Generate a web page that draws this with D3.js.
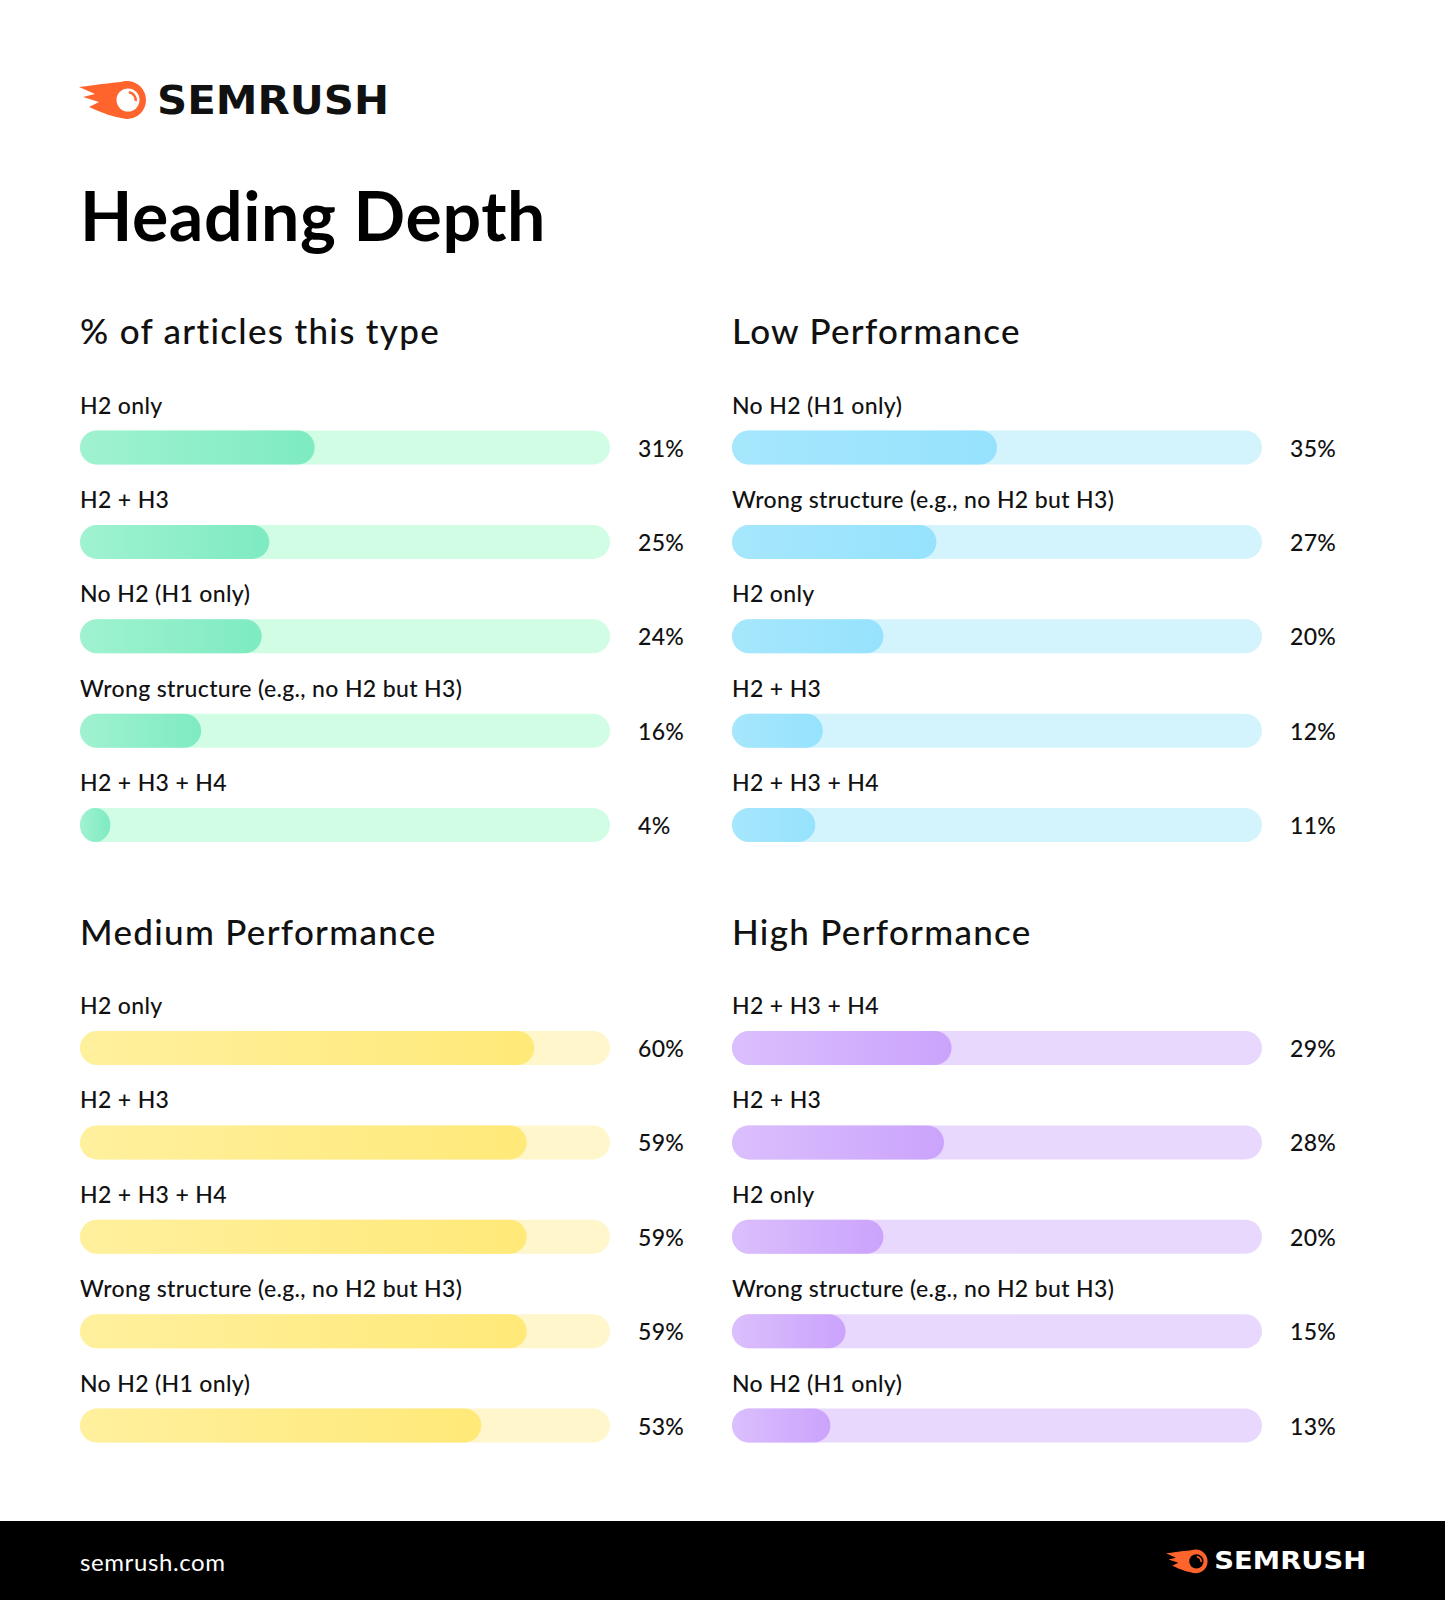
<!DOCTYPE html>
<html>
<head>
<meta charset="utf-8">
<script src="https://cdn.jsdelivr.net/npm/d3@7"></script>
<style>
  html, body { margin: 0; padding: 0; background: #fff; }
  svg { display: block; }
</style>
</head>
<body>
<svg id="chart" width="1445" height="1600"></svg>
<script>
// ---- Data ----
const chartTitle = "Heading Depth";
const panelTitles = ["% of articles this type", "Low Performance", "Medium Performance", "High Performance"];

const allCategories = ["H2 only", "H2 + H3", "No H2 (H1 only)", "Wrong structure (e.g., no H2 but H3)", "H2 + H3 + H4"];
const allValues = [31, 25, 24, 16, 4];

const lowCategories = ["No H2 (H1 only)", "Wrong structure (e.g., no H2 but H3)", "H2 only", "H2 + H3", "H2 + H3 + H4"];
const lowValues = [35, 27, 20, 12, 11];

const mediumCategories = ["H2 only", "H2 + H3", "H2 + H3 + H4", "Wrong structure (e.g., no H2 but H3)", "No H2 (H1 only)"];
const mediumValues = [60, 59, 59, 59, 53];

const highCategories = ["H2 + H3 + H4", "H2 + H3", "H2 only", "Wrong structure (e.g., no H2 but H3)", "No H2 (H1 only)"];
const highValues = [29, 28, 20, 15, 13];

const footerText = "semrush.com";
const brandText = "SEMRUSH";

// ---- Styling ----
const FONT = "Lato, 'Noto Sans', sans-serif";
const palettes = [
  { track: "#d1fde4", from: "#a0f2d0", to: "#7eebc2" },
  { track: "#d3f3fd", from: "#a6e7fc", to: "#96e2fd" },
  { track: "#fff6cb", from: "#fff09e", to: "#ffe978" },
  { track: "#e8d8fd", from: "#dbbffd", to: "#cba3fc" }
];

const svg = d3.select("#chart");
const defs = svg.append("defs");
palettes.forEach((p, i) => {
  const g = defs.append("linearGradient").attr("id", "grad" + i)
    .attr("x1", "0%").attr("x2", "100%").attr("y1", "0%").attr("y2", "0%");
  g.append("stop").attr("offset", "0%").attr("stop-color", p.from);
  g.append("stop").attr("offset", "100%").attr("stop-color", p.to);
});

// ---- Logo ----
function drawLogo(g, x, y, s, textColor, textW) {
  const L = g.append("g").attr("transform", `translate(${x},${y}) scale(${s})`);
  const orange = "#ff642d";
  L.append("path")
    .attr("d", "M48,2 C36,2 24,4 0,7 L16,14 L4,17 L20,22 L10,27 C24,33 34,38 48,38 Z")
    .attr("fill", orange);
  L.append("circle").attr("cx", 48).attr("cy", 20).attr("r", 19).attr("fill", orange);
  L.append("circle").attr("cx", 49).attr("cy", 20).attr("r", 11.5).attr("fill", textColor === "#fff" ? "#000" : "#fff");
  L.append("path")
    .attr("d", d3.arc()({ innerRadius: 6.5, outerRadius: 9, startAngle: 0.1, endAngle: 1.7 }))
    .attr("transform", "translate(49,20)")
    .attr("fill", orange);
  L.append("text")
    .attr("x", 78).attr("y", 20)
    .attr("dominant-baseline", "central")
    .attr("font-family", "'DejaVu Sans', Inter, sans-serif")
    .attr("font-weight", 700)
    .attr("font-size", 39)
    .attr("textLength", textW)
    .attr("lengthAdjust", "spacingAndGlyphs")
    .attr("fill", textColor)
    .text(brandText);
}
drawLogo(svg, 79, 80, 1, "#111", 232);

// ---- Title ----
svg.append("text")
  .attr("x", 80).attr("y", 241)
  .attr("font-family", FONT).attr("font-weight", 700).attr("font-size", 68)
  .attr("letter-spacing", 0.6)
  .attr("fill", "#000")
  .text(chartTitle);

// ---- Panels ----
const panels = [
  { cats: allCategories, vals: allValues, x: 80, y: 0 },
  { cats: lowCategories, vals: lowValues, x: 732, y: 0 },
  { cats: mediumCategories, vals: mediumValues, x: 80, y: 600.5 },
  { cats: highCategories, vals: highValues, x: 732, y: 600.5 }
];
const trackW = 530, barH = 34, rowStep = 94.4, firstRow = 447.5;
const xScale = d3.scaleLinear().domain([0, 70]).range([0, trackW]);

panels.forEach((p, i) => {
  const g = svg.append("g").attr("transform", `translate(${p.x},${p.y})`);
  g.append("text")
    .attr("x", 0).attr("y", 344)
    .attr("font-family", FONT).attr("font-weight", 500).attr("font-size", 35)
    .attr("letter-spacing", 1.3)
    .attr("fill", "#111")
    .text(panelTitles[i]);

  const yScale = d3.scalePoint().domain(p.cats).range([firstRow, firstRow + rowStep * (p.cats.length - 1)]);
  const rows = g.selectAll("g.row").data(p.cats.map((c, k) => ({ c, v: p.vals[k] })))
    .join("g").attr("class", "row")
    .attr("transform", d => `translate(0,${yScale(d.c)})`);

  rows.append("text")
    .attr("x", 0).attr("y", -34)
    .attr("font-family", FONT).attr("font-size", 23).attr("font-weight", 500)
    .attr("letter-spacing", 0.35)
    .attr("fill", "#111")
    .text(d => d.c);

  rows.append("rect")
    .attr("x", xScale(0)).attr("y", -barH / 2)
    .attr("width", xScale.range()[1]).attr("height", barH)
    .attr("rx", barH / 2).attr("ry", barH / 2)
    .attr("fill", palettes[i].track);

  rows.append("rect")
    .attr("x", xScale(0)).attr("y", -barH / 2)
    .attr("width", d => xScale(d.v)).attr("height", barH)
    .attr("rx", d => Math.min(barH / 2, xScale(d.v) / 2)).attr("ry", barH / 2)
    .attr("fill", `url(#grad${i})`);

  rows.append("text")
    .attr("x", trackW + 28).attr("y", 0)
    .attr("dominant-baseline", "central")
    .attr("font-family", FONT).attr("font-size", 23).attr("font-weight", 500)
    .attr("letter-spacing", 0.3)
    .attr("fill", "#111")
    .text(d => d.v + "%");
});

// ---- Footer ----
svg.append("rect").attr("x", 0).attr("y", 1521).attr("width", 1445).attr("height", 79).attr("fill", "#000");
svg.append("text")
  .attr("x", 80).attr("y", 1561)
  .attr("dominant-baseline", "central")
  .attr("font-family", FONT).attr("font-size", 24)
  .attr("letter-spacing", 0.6)
  .attr("fill", "#fff")
  .text(footerText);
drawLogo(svg, 1166, 1549, 0.62, "#fff", 245);
</script>
</body>
</html>
